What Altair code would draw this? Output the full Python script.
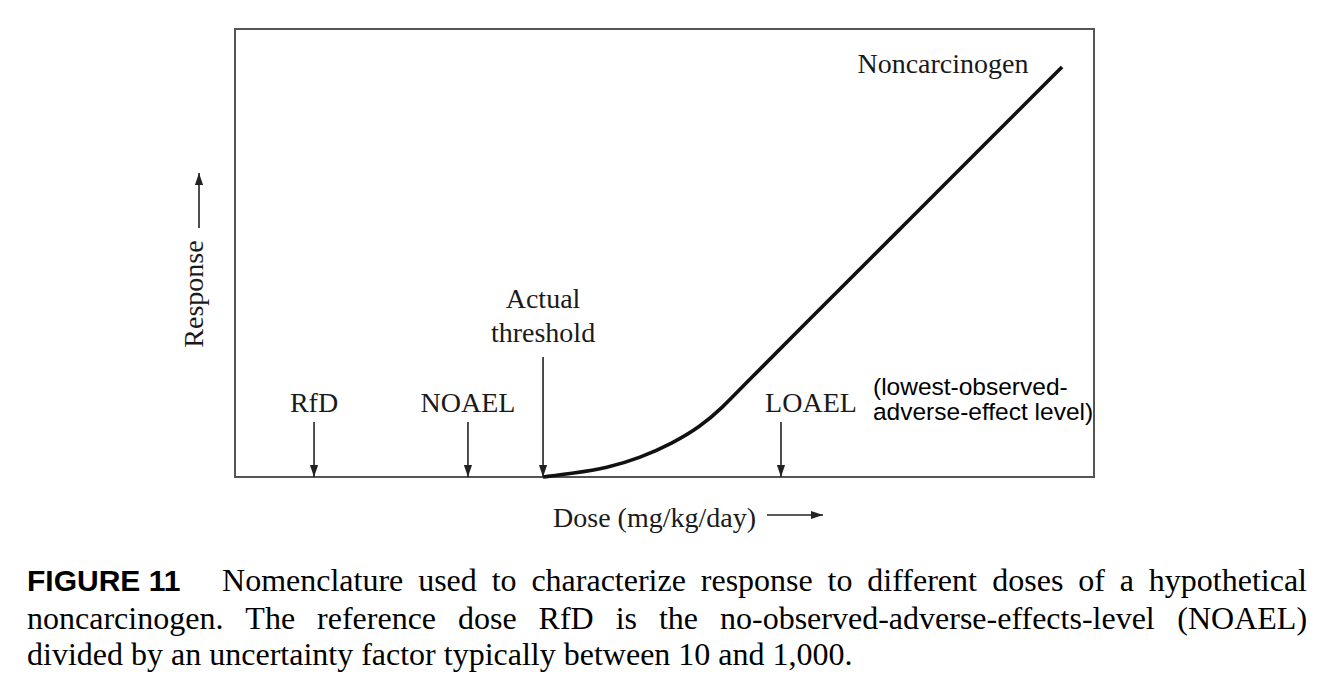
import altair as alt
import pandas as pd

# ---- dose-response curve (dose 0-100, response 0-100 arbitrary units) ----
dose = [35.86, 39.35, 43.31, 47.15, 50.99, 54.13, 56.81, 58.79, 65.77, 77.42, 89.06, 96.28]
response = [0.0, 0.83, 2.01, 4.24, 7.59, 11.16, 15.63, 19.64, 33.04, 55.36, 77.68, 91.52]

# ---- marker arrows on the dose axis ----
marker_names = ["RfD", "NOAEL", "Actual threshold", "LOAEL"]
marker_dose = [9.20, 27.12, 35.86, 63.56]
marker_top = [12.28, 12.28, 26.79, 12.28]

# ---- serif labels inside the plot ----
label_text = ["RfD", "NOAEL", "Actual", "threshold", "LOAEL", "Noncarcinogen"]
label_x = [9.20, 27.12, 35.86, 35.86, 67.05, 82.42]
label_y = [14.51, 14.51, 37.72, 30.13, 14.51, 90.18]

# ---- sans note next to LOAEL ----
note_text = ["(lowest-observed-", "adverse-effect level)"]
note_x = [74.27, 74.27]
note_y = [18.30, 12.72]

# ---- axis titles ----
xtitle = "Dose (mg/kg/day)"
ytitle = "Response"

# ---- caption ----
caption_bold = "FIGURE 11"
caption_lines = [
    "Nomenclature used to characterize response to different doses of a hypothetical",
    "noncarcinogen. The reference dose RfD is the no-observed-adverse-effects-level (NOAEL)",
    "divided by an uncertainty factor typically between 10 and 1,000.",
]
caption_start = [-1.51, -24.21, -24.21]   # dose units
caption_end = [124.80, 124.80, None]      # justified lines end here
caption_y = [-25.45, -33.93, -41.96]

XS = alt.Scale(domain=[0, 100], nice=False, zero=False)
YS = alt.Scale(domain=[0, 100], nice=False, zero=False)
SERIF = "Liberation Serif"
SANS = "Liberation Sans"
INK = "#1a1a1a"
CAP_SIZE = 32
PX_PER_UNIT = 8.59  # plot width 859 px over 100 dose units

# Times/Liberation Serif advance widths (per 1000 em) for justified layout
_W = {" ": 250, "(": 333, ")": 333, ",": 250, "-": 333, ".": 250, "/": 278,
      "A": 722, "D": 722, "E": 611, "L": 611, "N": 722, "O": 722, "R": 667, "T": 611,
      "a": 444, "b": 500, "c": 444, "d": 500, "e": 444, "f": 333, "g": 500, "h": 500,
      "i": 278, "j": 278, "k": 500, "l": 278, "m": 778, "n": 500, "o": 500, "p": 500,
      "q": 500, "r": 333, "s": 389, "t": 278, "u": 500, "v": 500, "w": 722, "x": 500,
      "y": 500, "z": 444}


def word_width_units(word):
    px = sum(_W.get(ch, 500) for ch in word) * CAP_SIZE / 1000.0
    return px / PX_PER_UNIT


cap_rows = []
for line, start, end, yv in zip(caption_lines, caption_start, caption_end, caption_y):
    if end is None:
        cap_rows.append({"t": line, "x": start, "y": yv})
        continue
    words = line.split(" ")
    widths = [word_width_units(w) for w in words]
    gap = (end - start - sum(widths)) / (len(words) - 1)
    pos = start
    for w, wd in zip(words, widths):
        cap_rows.append({"t": w, "x": pos, "y": yv})
        pos += wd + gap
cap_df = pd.DataFrame(cap_rows)


def X(f="x"):
    return alt.X(f"{f}:Q", scale=XS, axis=None)


def Y(f="y"):
    return alt.Y(f"{f}:Q", scale=YS, axis=None)


curve_df = pd.DataFrame({"x": dose, "y": response})
curve = alt.Chart(curve_df).mark_line(color="#111", strokeWidth=3.6, interpolate="basis").encode(
    x=X(), y=Y())

mk = pd.DataFrame({"name": marker_names, "x": marker_dose, "y": marker_top,
                   "y0": [0.0] * len(marker_names)})
rules = alt.Chart(mk).mark_rule(color="#222", strokeWidth=1.6).encode(
    x=X(), y=Y(), y2="y0:Q")
down_head = alt.Chart(mk).mark_point(
    shape="M0,0L-0.34,-1L0.34,-1Z", size=576, filled=True, color="#222", strokeWidth=0, opacity=1
).encode(x=X(), y=alt.Y("y0:Q", scale=YS, axis=None))

lab_df = pd.DataFrame({"t": label_text, "x": label_x, "y": label_y})
labels = alt.Chart(lab_df).mark_text(
    font=SERIF, fontSize=28, color=INK, align="center", baseline="alphabetic"
).encode(x=X(), y=Y(), text="t:N")

note_df = pd.DataFrame({"t": note_text, "x": note_x, "y": note_y})
note = alt.Chart(note_df).mark_text(
    font=SANS, fontSize=24.5, color="#000", align="left", baseline="alphabetic"
).encode(x=X(), y=Y(), text="t:N")

# axis titles with arrows
ytitle_df = pd.DataFrame({"t": [ytitle], "x": [-3.73], "y": [40.85]})
ytitle_m = alt.Chart(ytitle_df).mark_text(
    font=SERIF, fontSize=28, color=INK, align="center", baseline="alphabetic", angle=270
).encode(x=X(), y=Y(), text="t:N")
yarrow_df = pd.DataFrame({"x": [-4.19], "y": [55.58], "y2": [67.86]})
yarrow = alt.Chart(yarrow_df).mark_rule(color="#222", strokeWidth=1.6).encode(
    x=X(), y=Y(), y2="y2:Q")
yhead = alt.Chart(yarrow_df).mark_point(
    shape="M0,0L-0.34,1L0.34,1Z", size=576, filled=True, color="#222", strokeWidth=0, opacity=1
).encode(x=X(), y=alt.Y("y2:Q", scale=YS, axis=None))

xtitle_df = pd.DataFrame({"t": [xtitle], "x": [48.84], "y": [-11.16]})
xtitle_m = alt.Chart(xtitle_df).mark_text(
    font=SERIF, fontSize=28, color=INK, align="center", baseline="alphabetic"
).encode(x=X(), y=Y(), text="t:N")
xarrow_df = pd.DataFrame({"x": [61.93], "x2": [68.45], "y": [-8.48]})
xarrow = alt.Chart(xarrow_df).mark_rule(color="#222", strokeWidth=1.6).encode(
    x=X(), x2="x2:Q", y=Y())
xhead = alt.Chart(xarrow_df).mark_point(
    shape="M0,0L-1,-0.34L-1,0.34Z", size=576, filled=True, color="#222", strokeWidth=0, opacity=1
).encode(x=alt.X("x2:Q", scale=XS, axis=None), y=Y())

# caption
cap_b = alt.Chart(pd.DataFrame({"t": [caption_bold], "x": [-24.21], "y": [-25.45]})).mark_text(
    font=SANS, fontSize=30, fontWeight="bold", color="#000", align="left", baseline="alphabetic"
).encode(x=X(), y=Y(), text="t:N")
cap_l = alt.Chart(cap_df).mark_text(
    font=SERIF, fontSize=CAP_SIZE, color="#000", align="left", baseline="alphabetic"
).encode(x=X(), y=Y(), text="t:N")

chart = alt.layer(
    curve, rules, down_head, labels, note, ytitle_m, yarrow, yhead, xtitle_m, xarrow, xhead,
    cap_b, cap_l
).properties(
    width=859, height=448,
    autosize=alt.AutoSizeParams(type="none"),
    padding={"left": 227, "top": 21, "right": 225, "bottom": 200},
    background="white",
).configure_view(stroke="#555", strokeWidth=2)

chart.save("out.html", embed_options={"renderer": "svg", "actions": False})
